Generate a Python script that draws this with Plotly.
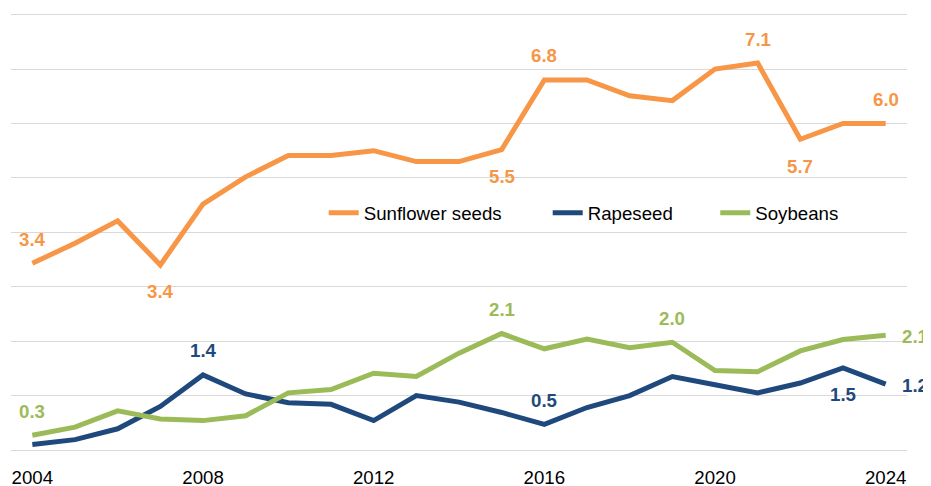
import plotly.graph_objects as go

years = list(range(2004, 2025))
sunflower = [3.43, 3.80, 4.21, 3.40, 4.52, 5.02, 5.41, 5.41, 5.50, 5.30, 5.30,
             5.52, 6.80, 6.80, 6.51, 6.42, 7.00, 7.11, 5.71, 6.00, 6.00]
rapeseed = [0.10, 0.19, 0.39, 0.80, 1.38, 1.03, 0.87, 0.84, 0.54, 1.00, 0.88,
            0.69, 0.47, 0.78, 1.00, 1.35, 1.20, 1.05, 1.23, 1.51, 1.21]
soybeans = [0.27, 0.42, 0.72, 0.57, 0.54, 0.63, 1.05, 1.11, 1.41, 1.35, 1.78,
            2.14, 1.86, 2.04, 1.88, 1.98, 1.46, 1.44, 1.82, 2.03, 2.11]
tick_years = [2004, 2008, 2012, 2016, 2020, 2024]

series = [
    ("Sunflower seeds", sunflower, "#F79646",
     {2004: "above", 2007: "below", 2015: "below", 2016: "above",
      2021: "above", 2022: "below", 2024: "above"}, 0.349),
    ("Rapeseed", rapeseed, "#1F497D",
     {2008: "above", 2016: "above", 2023: "below", 2024: "right"}, 0.599),
    ("Soybeans", soybeans, "#9BBB59",
     {2004: "above", 2015: "above", 2019: "above", 2024: "right"}, 0.786),
]

FONT = "Liberation Sans, Arial, sans-serif"
FS = 18.67
fig = go.Figure()
annotations = []
layout_legends = {}
for i, (name, vals, color, labels, lx) in enumerate(series):
    lg = "legend" if i == 0 else f"legend{i+1}"
    fig.add_trace(go.Scatter(
        x=years, y=vals, name=name, mode="lines", showlegend=True,
        line=dict(color=color, width=5), legend=lg, hoverinfo="skip"))
    layout_legends[lg] = dict(
        x=lx, y=0.542, xanchor="left", yanchor="middle",
        orientation="h", bgcolor="rgba(0,0,0,0)",
        font=dict(family=FONT, size=FS, color="#000000"))
    for yr, pos in labels.items():
        v = vals[years.index(yr)]
        a = dict(x=yr, y=v, text=f"<b>{v:.1f}</b>", showarrow=False,
                 font=dict(family=FONT, size=FS, color=color))
        if pos == "above":
            a.update(yshift=24, xanchor="center", yanchor="middle")
        elif pos == "below":
            a.update(yshift=-27, xanchor="center", yanchor="middle")
        else:
            a.update(xshift=14, yshift=-1, xanchor="left", yanchor="middle")
        annotations.append(a)

fig.update_layout(
    width=931, height=486,
    margin=dict(l=3, r=32, t=5, b=44),
    plot_bgcolor="white", paper_bgcolor="white",
    showlegend=True,
    annotations=annotations,
    **layout_legends,
)
fig.update_xaxes(range=[2003.5, 2024.5], tickvals=tick_years,
                 ticktext=[str(t) for t in tick_years],
                 showgrid=False, zeroline=False, showline=False,
                 ticklabelstandoff=14,
                 tickfont=dict(family=FONT, size=FS, color="#000000"))
fig.update_yaxes(range=[0, 8.03], tickvals=[0, 1, 2, 3, 4, 5, 6, 7, 8],
                 showticklabels=False,
                 showgrid=True, gridcolor="#D9D9D9", gridwidth=1,
                 zeroline=True, zerolinecolor="#D9D9D9", zerolinewidth=1,
                 showline=False)

fig.write_html("out.html")
